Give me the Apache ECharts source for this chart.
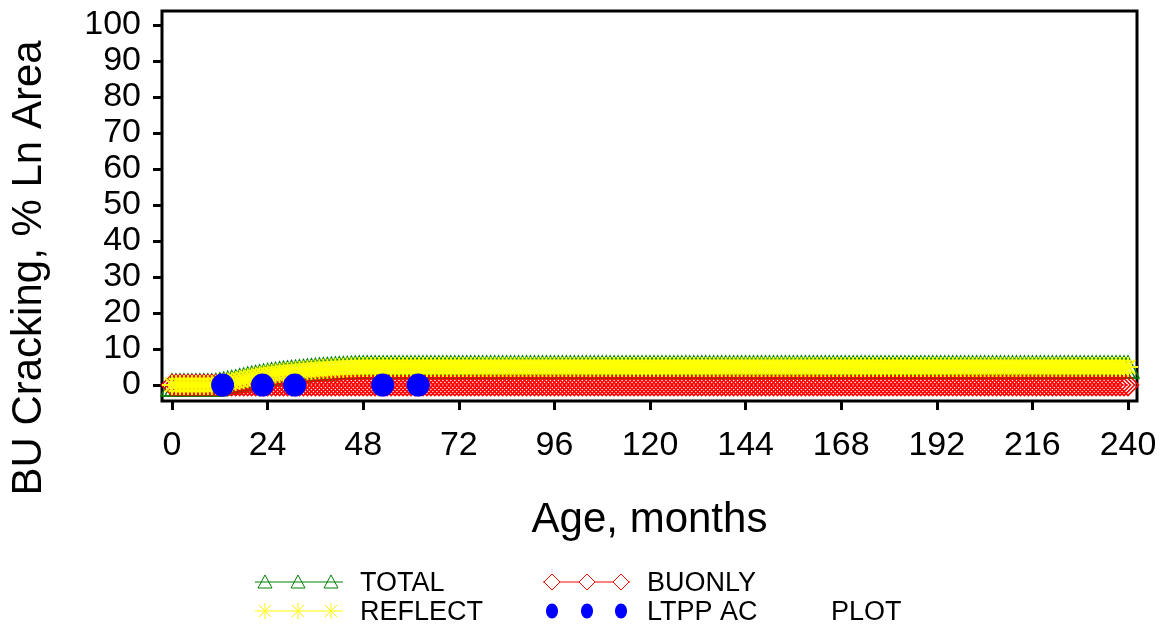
<!DOCTYPE html>
<html><head><meta charset="utf-8">
<script src="https://cdn.jsdelivr.net/npm/echarts@6/dist/echarts.min.js"></script>
<style>html,body{margin:0;padding:0;background:#fff}#c{width:1164px;height:629px}</style>
</head><body><div id="c"></div>
<script>
const MONTHS = [
0,1,2,3,4,5,6,7,8,9,10,11,12,13,14,15,16,17,18,19,
20,21,22,23,24,25,26,27,28,29,30,31,32,33,34,35,36,37,38,39,
40,41,42,43,44,45,46,47,48,49,50,51,52,53,54,55,56,57,58,59,
60,61,62,63,64,65,66,67,68,69,70,71,72,73,74,75,76,77,78,79,
80,81,82,83,84,85,86,87,88,89,90,91,92,93,94,95,96,97,98,99,
100,101,102,103,104,105,106,107,108,109,110,111,112,113,114,115,116,117,118,119,
120,121,122,123,124,125,126,127,128,129,130,131,132,133,134,135,136,137,138,139,
140,141,142,143,144,145,146,147,148,149,150,151,152,153,154,155,156,157,158,159,
160,161,162,163,164,165,166,167,168,169,170,171,172,173,174,175,176,177,178,179,
180,181,182,183,184,185,186,187,188,189,190,191,192,193,194,195,196,197,198,199,
200,201,202,203,204,205,206,207,208,209,210,211,212,213,214,215,216,217,218,219,
220,221,222,223,224,225,226,227,228,229,230,231,232,233,234,235,236,237,238,239,
240];
const TOTAL = [
0,0,0,0,0,0,0,0,0,0,0,0.1,0.3,0.5,0.7,0.9,1.1,1.4,1.6,1.9,
2.1,2.3,2.5,2.7,2.9,3.05,3.2,3.35,3.5,3.6,3.7,3.8,3.9,4.0,4.1,4.2,4.3,4.4,4.5,4.55,
4.6,4.7,4.75,4.8,4.85,4.9,4.95,5,5,5,5,5,5,5,5,5,5,5,5,5,
5,5,5,5,5,5,5,5,5,5,5,5,5,5,5,5,5,5,5,5,
5,5,5,5,5,5,5,5,5,5,5,5,5,5,5,5,5,5,5,5,
5,5,5,5,5,5,5,5,5,5,5,5,5,5,5,5,5,5,5,5,
5,5,5,5,5,5,5,5,5,5,5,5,5,5,5,5,5,5,5,5,
5,5,5,5,5,5,5,5,5,5,5,5,5,5,5,5,5,5,5,5,
5,5,5,5,5,5,5,5,5,5,5,5,5,5,5,5,5,5,5,5,
5,5,5,5,5,5,5,5,5,5,5,5,5,5,5,5,5,5,5,5,
5,5,5,5,5,5,5,5,5,5,5,5,5,5,5,5,5,5,5,5,
5,5,5,5,5,5,5,5,5,5,5,5,5,5,5,5,5,5,5,5,
5];
const REFLECT = [
0,0,0,0,0,0,0,0,0,0,0,0.1,0.3,0.5,0.7,0.9,1.1,1.4,1.6,1.9,
2.1,2.3,2.5,2.7,2.9,3.05,3.2,3.35,3.5,3.6,3.7,3.8,3.9,4.0,4.1,4.2,4.3,4.4,4.5,4.55,
4.6,4.7,4.75,4.8,4.85,4.9,4.95,5,5,5,5,5,5,5,5,5,5,5,5,5,
5,5,5,5,5,5,5,5,5,5,5,5,5,5,5,5,5,5,5,5,
5,5,5,5,5,5,5,5,5,5,5,5,5,5,5,5,5,5,5,5,
5,5,5,5,5,5,5,5,5,5,5,5,5,5,5,5,5,5,5,5,
5,5,5,5,5,5,5,5,5,5,5,5,5,5,5,5,5,5,5,5,
5,5,5,5,5,5,5,5,5,5,5,5,5,5,5,5,5,5,5,5,
5,5,5,5,5,5,5,5,5,5,5,5,5,5,5,5,5,5,5,5,
5,5,5,5,5,5,5,5,5,5,5,5,5,5,5,5,5,5,5,5,
5,5,5,5,5,5,5,5,5,5,5,5,5,5,5,5,5,5,5,5,
5,5,5,5,5,5,5,5,5,5,5,5,5,5,5,5,5,5,5,5,
5];
const BUONLY = [
0,0,0,0,0,0,0,0,0,0,0,0,0,0,0,0,0,0,0,0,
0,0,0,0,0,0,0,0,0,0,0,0,0,0,0,0,0,0,0,0,
0,0,0,0,0,0,0,0,0,0,0,0,0,0,0,0,0,0,0,0,
0,0,0,0,0,0,0,0,0,0,0,0,0,0,0,0,0,0,0,0,
0,0,0,0,0,0,0,0,0,0,0,0,0,0,0,0,0,0,0,0,
0,0,0,0,0,0,0,0,0,0,0,0,0,0,0,0,0,0,0,0,
0,0,0,0,0,0,0,0,0,0,0,0,0,0,0,0,0,0,0,0,
0,0,0,0,0,0,0,0,0,0,0,0,0,0,0,0,0,0,0,0,
0,0,0,0,0,0,0,0,0,0,0,0,0,0,0,0,0,0,0,0,
0,0,0,0,0,0,0,0,0,0,0,0,0,0,0,0,0,0,0,0,
0,0,0,0,0,0,0,0,0,0,0,0,0,0,0,0,0,0,0,0,
0,0,0,0,0,0,0,0,0,0,0,0,0,0,0,0,0,0,0,0,
0];
const LTPP_MONTHS = [12.7, 22.7, 30.8, 52.9, 61.8];
const LTPP_AC = [0, 0, 0, 0, 0];
const X_TICKS = [0, 24, 48, 72, 96, 120, 144, 168, 192, 216, 240];
const Y_TICKS = [0, 10, 20, 30, 40, 50, 60, 70, 80, 90, 100];
const SERIES_NAMES = ['TOTAL', 'BUONLY', 'REFLECT', 'LTPP AC'];
const X_TITLE = 'Age, months';
const Y_TITLE = 'BU Cracking, % Ln Area';

const FONT = 'Liberation Sans, Arial, sans-serif';
const TRI = 'path://M5,0L10,10L0,10Z';
const DIA = 'path://M5,0L10,5L5,10L0,5Z';
const STAR = 'path://M5,0L5,10M0,5L10,5M1.5,1.5L8.5,8.5M8.5,1.5L1.5,8.5';
const pair = (xs, ys) => xs.map((x, i) => [x, ys[i]]);

function lineSeries(name, ys, sym, size, col, bw) {
  return {
    name, type: 'line', data: pair(MONTHS, ys),
    symbol: sym, symbolSize: size, showSymbol: true, showAllSymbol: true,
    itemStyle: { color: 'rgba(0,0,0,0)', borderColor: col, borderWidth: bw, opacity: 1 },
    lineStyle: { color: col, width: 1 },
    emphasis: { disabled: true }, clip: false
  };
}

const chart = echarts.init(document.getElementById('c'), null, { renderer: 'canvas' });

function triPts(cx, cy) { return [[cx, cy - 7], [cx + 7, cy + 6], [cx - 7, cy + 6]]; }
function diaPts(cx, cy) { return [[cx, cy - 8], [cx + 8, cy], [cx, cy + 8], [cx - 8, cy]]; }
const LX1 = [265, 298, 331], LX2 = [552, 587, 621];
const R1 = 582, R2 = 611;
const g = [];
g.push({ type: 'line', shape: { x1: 255, y1: R1, x2: 343, y2: R1 }, style: { stroke: '#008000', lineWidth: 1 } });
LX1.forEach(x => g.push({ type: 'polygon', shape: { points: triPts(x, R1) }, style: { fill: 'none', stroke: '#008000', lineWidth: 1 } }));
g.push({ type: 'line', shape: { x1: 255, y1: R2, x2: 343, y2: R2 }, style: { stroke: '#ffff00', lineWidth: 1 } });
LX1.forEach(x => {
  g.push({ type: 'line', shape: { x1: x, y1: R2 - 8, x2: x, y2: R2 + 8 }, style: { stroke: '#ffff00', lineWidth: 1 } });
  g.push({ type: 'line', shape: { x1: x - 6, y1: R2 - 6, x2: x + 6, y2: R2 + 6 }, style: { stroke: '#ffff00', lineWidth: 1 } });
  g.push({ type: 'line', shape: { x1: x + 6, y1: R2 - 6, x2: x - 6, y2: R2 + 6 }, style: { stroke: '#ffff00', lineWidth: 1 } });
});
g.push({ type: 'line', shape: { x1: 543, y1: R1, x2: 630, y2: R1 }, style: { stroke: '#ff0000', lineWidth: 1 } });
LX2.forEach(x => g.push({ type: 'polygon', shape: { points: diaPts(x, R1) }, style: { fill: '#fff', stroke: '#ff0000', lineWidth: 1 } }));
LX2.forEach(x => g.push({ type: 'ellipse', shape: { cx: x, cy: R2, rx: 6, ry: 7.5 }, style: { fill: '#0000ff' } }));
const txt = (t, x, y) => ({ type: 'text', x, y, style: { text: t, font: '27px ' + FONT, fill: '#000', verticalAlign: 'middle' } });
g.push(txt('TOTAL', 360, R1 + 2));
g.push(txt('REFLECT', 360, R2 + 2));
g.push(txt('BUONLY', 647, R1 + 2));
g.push(txt('LTPP AC', 647, R2 + 2));
g.push(txt('PLOT', 831, R2 + 2));

chart.setOption({
  animation: false,
  backgroundColor: '#fff',
  grid: { left: 162, right: 27, top: 11, bottom: 228, show: true, borderColor: '#000', borderWidth: 3, backgroundColor: 'transparent' },
  xAxis: {
    type: 'value', min: -2.51, max: 242.26,
    name: X_TITLE, nameLocation: 'middle', nameGap: 98,
    nameTextStyle: { fontSize: 42, color: '#000', fontFamily: FONT },
    axisLine: { show: false, onZero: false },
    axisTick: { show: true, inside: false, length: 9, lineStyle: { color: '#000', width: 3 }, customValues: X_TICKS },
    axisLabel: { fontSize: 34, color: '#000', fontFamily: FONT, margin: 28, customValues: X_TICKS },
    splitLine: { show: false }
  },
  yAxis: {
    type: 'value', min: -4.44, max: 103.89,
    name: Y_TITLE, nameLocation: 'middle', nameGap: 112, nameRotate: 90,
    nameTextStyle: { fontSize: 42, color: '#000', fontFamily: FONT, padding: [0, 124, 0, 0] },
    axisLine: { show: false, onZero: false },
    axisTick: { show: true, inside: false, length: 9, lineStyle: { color: '#000', width: 3 }, customValues: Y_TICKS },
    axisLabel: { fontSize: 34, color: '#000', fontFamily: FONT, margin: 21, customValues: Y_TICKS },
    splitLine: { show: false }
  },
  series: [
    lineSeries(SERIES_NAMES[0], TOTAL, TRI, 22, '#008000', 1.5),
    lineSeries(SERIES_NAMES[1], BUONLY, DIA, 21, '#ff0000', 1.6),
    lineSeries(SERIES_NAMES[2], REFLECT, STAR, 20, '#ffff00', 2),
    {
      name: SERIES_NAMES[3], type: 'scatter', data: pair(LTPP_MONTHS, LTPP_AC),
      symbol: 'circle', symbolSize: 23, itemStyle: { color: '#0000ff', opacity: 1 },
      emphasis: { disabled: true }, z: 5
    }
  ],
  graphic: g
});
</script>
</body></html>
